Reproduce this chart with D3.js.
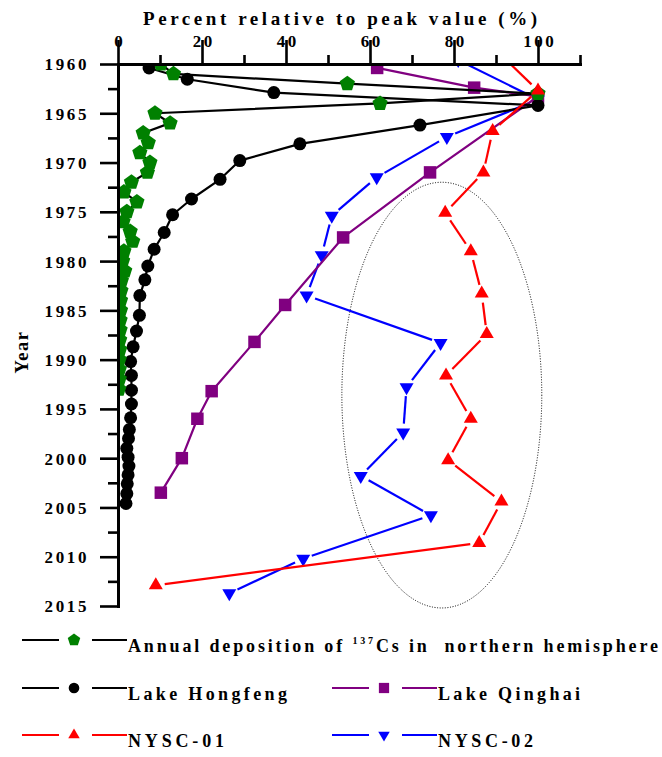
<!DOCTYPE html>
<html>
<head>
<meta charset="utf-8">
<script src="https://cdn.jsdelivr.net/npm/d3@7"></script>
<style>
  html, body { margin: 0; padding: 0; background: #fff; }
  svg { display: block; }
  text { font-family: "Liberation Serif", "Times New Roman", serif; font-weight: bold; fill: #000; }
</style>
</head>
<body>
<svg id="chart" width="662" height="757"></svg>
<script>
// ---- data: percent of each record's peak value, by year ----
const xMajorTicks = [0, 20, 40, 60, 80, 100];
const xMinorTicks = [10, 30, 50, 70, 90, 110];
const yMajorTicks = [1960, 1965, 1970, 1975, 1980, 1985, 1990, 1995, 2000, 2005, 2010, 2015];
const yMinorTicks = [1962.5, 1967.5, 1972.5, 1977.5, 1982.5, 1987.5, 1992.5, 1997.5, 2002.5, 2007.5, 2012.5];

const annualYears = [1960, 1961, 1962, 1963, 1964, 1965, 1966, 1967, 1968, 1969, 1970, 1971,
  1972, 1973, 1974, 1975, 1976, 1977, 1978, 1979, 1980, 1981, 1982, 1983, 1984, 1985, 1986,
  1987, 1988, 1989, 1990, 1991, 1992, 1993];
const annualValues = [10.2, 13.2, 54.6, 100, 62.4, 8.8, 12.4, 6.0, 7.2, 5.2, 7.6, 7.0,
  3.2, 1.4, 4.5, 2.1, 1.2, 2.9, 3.5, 1.4, 1.1, 1.6, 0.8, 0.7, 0.6, 0.6, 0.5, 0.5, 0.4,
  0.4, 0.3, 0.3, 0.3, 0.2];

const hongfengYears = [1960.4, 1961.55, 1962.9, 1964.2, 1966.2, 1968.1, 1969.8, 1971.7, 1973.7,
  1975.3, 1977.1, 1978.8, 1980.5, 1981.9, 1983.5, 1985.5, 1987.1, 1988.7, 1990.2, 1991.6,
  1993.1, 1994.5, 1995.9, 1997.1, 1998.0, 1999.0, 1999.9, 2000.8, 2001.7, 2002.6, 2003.6, 2004.6];
const hongfengValues = [7.4, 16.5, 37.1, 100, 71.9, 43.3, 29.0, 24.3, 17.5,
  13.0, 11.0, 8.6, 7.1, 6.4, 5.2, 5.1, 4.4, 3.6, 3.0, 3.2,
  3.2, 3.2, 3.0, 2.7, 2.5, 2.1, 2.4, 2.6, 2.4, 2.2, 2.1, 1.9];

const qinghaiYears = [1960.4, 1962.4, 1963.3, 1971.0, 1977.6, 1984.45, 1988.2, 1993.2, 1996.0, 2000.0, 2003.5];
const qinghaiValues = [61.7, 84.8, 100, 74.3, 53.6, 39.8, 32.5, 22.3, 18.9, 15.2, 10.2];

const nysc01Years = [1959.0, 1962.7, 1966.8, 1971.0, 1975.1, 1979.0, 1983.3, 1987.4, 1991.6, 1996.0, 2000.2, 2004.4, 2008.6, 2012.9];
const nysc01Values = [91.0, 100, 89.2, 87.0, 77.9, 84.0, 86.6, 87.8, 78.1, 84.0, 78.6, 91.3, 86.0, 9.0];

const nysc02Years = [1959.6, 1963.6, 1967.4, 1971.5, 1975.4, 1979.4, 1983.5, 1988.3, 1992.8, 1997.4, 2001.8, 2005.8, 2010.2, 2013.7];
const nysc02Values = [81.0, 100, 78.3, 61.6, 50.9, 48.5, 44.9, 76.8, 68.7, 67.9, 57.8, 74.5, 44.1, 26.5];

// highlighted period (dotted ellipse): centre and half-widths in data units
const ellipseCenter = [77.1, 1993.6];
const ellipseRadii = [23.8, 21.6];

// ---- scales ----
const svg = d3.select("#chart");
const x = d3.scaleLinear().domain([0, 110]).range([118, 580]);
const y = d3.scaleLinear().domain([1960, 2015]).range([64, 606]);

// ---- marker shapes ----
function pentagon(r) {
  const pts = d3.range(5).map(k => {
    const a = (-90 + k * 72) * Math.PI / 180;
    return [r * Math.cos(a), r * Math.sin(a)];
  });
  return "M" + pts.map(p => p.join(",")).join("L") + "Z";
}
function triangle(w, h, down) {
  const s = down ? -1 : 1;
  return `M0,${-s * 2 * h / 3}L${w / 2},${s * h / 3}L${-w / 2},${s * h / 3}Z`;
}
function square(a) {
  return `M${-a / 2},${-a / 2}h${a}v${a}h${-a}Z`;
}
function circle(r) {
  return `M${r},0A${r},${r} 0 1,1 ${-r},0A${r},${r} 0 1,1 ${r},0Z`;
}
function markerPath(shape, k) {
  switch (shape) {
    case "pentagon": return pentagon(8 * k);
    case "triUp": return triangle(14 * k, 12 * k, false);
    case "triDown": return triangle(14 * k, 12 * k, true);
    case "square": return square(12.5 * k);
    default: return circle(6.5 * k);
  }
}

const series = [
  { label: "NYSC-02", years: nysc02Years, values: nysc02Values, line: "#0000FF", fill: "#0000FF", shape: "triDown", gap: 9 },
  { label: "Lake Qinghai", years: qinghaiYears, values: qinghaiValues, line: "#800080", fill: "#800080", shape: "square", gap: 0 },
  { label: "Lake Hongfeng", years: hongfengYears, values: hongfengValues, line: "#000000", fill: "#000000", shape: "circle", gap: 0 },
  { label: "annual", years: annualYears, values: annualValues, line: "#000000", fill: "#008000", shape: "pentagon", gap: 0 },
  { label: "NYSC-01", years: nysc01Years, values: nysc01Values, line: "#FF0000", fill: "#FF0000", shape: "triUp", gap: 9 }
];

// ---- plot area clip ----
svg.append("defs").append("clipPath").attr("id", "plotClip")
  .append("rect").attr("x", x(0)).attr("y", y(1960))
  .attr("width", x(110) - x(0) + 10).attr("height", y(2015) - y(1960) + 10);

const plot = svg.append("g").attr("clip-path", "url(#plotClip)");

// dotted ellipse around the recent NYSC records
plot.append("ellipse")
  .attr("cx", x(ellipseCenter[0])).attr("cy", y(ellipseCenter[1]))
  .attr("rx", x(ellipseCenter[0] + ellipseRadii[0]) - x(ellipseCenter[0]))
  .attr("ry", y(ellipseCenter[1] + ellipseRadii[1]) - y(ellipseCenter[1]))
  .attr("fill", "none").attr("stroke", "#000").attr("stroke-width", 1)
  .attr("stroke-dasharray", "1,1.6");

series.forEach(s => {
  const pts = s.years.map((yr, i) => [x(s.values[i]), y(yr)]);
  const g = plot.append("g");
  if (s.gap > 0) {
    // connecting segments stop short of each symbol
    for (let i = 0; i < pts.length - 1; i++) {
      const [x0, y0] = pts[i], [x1, y1] = pts[i + 1];
      const L = Math.hypot(x1 - x0, y1 - y0);
      if (L <= 2 * s.gap + 2) continue;
      const ux = (x1 - x0) / L, uy = (y1 - y0) / L;
      g.append("line")
        .attr("x1", x0 + ux * s.gap).attr("y1", y0 + uy * s.gap)
        .attr("x2", x1 - ux * s.gap).attr("y2", y1 - uy * s.gap)
        .attr("stroke", s.line).attr("stroke-width", 2.2);
    }
  } else {
    g.append("path").datum(pts)
      .attr("d", d3.line())
      .attr("fill", "none").attr("stroke", s.line).attr("stroke-width", 2.2)
      .attr("stroke-linejoin", "round");
  }
  g.selectAll("path.mk").data(pts).join("path").attr("class", "mk")
    .attr("transform", d => `translate(${d[0]},${d[1]})`)
    .attr("d", markerPath(s.shape, 1))
    .attr("fill", s.fill);
});

// ---- axes ----
const tickFont = "17px";
const xMinor = svg.append("g").attr("transform", `translate(0,${y(1960)})`)
  .call(d3.axisTop(x).tickValues(xMinorTicks).tickSize(9).tickSizeOuter(0).tickFormat(""));
const xMajor = svg.append("g").attr("transform", `translate(0,${y(1960)})`)
  .call(d3.axisTop(x).tickValues(xMajorTicks).tickSize(24).tickSizeOuter(0).tickPadding(-7));
const yMinor = svg.append("g").attr("transform", `translate(${x(0)},0)`)
  .call(d3.axisLeft(y).tickValues(yMinorTicks).tickSize(10).tickSizeOuter(0).tickFormat(""));
const yMajor = svg.append("g").attr("transform", `translate(${x(0)},0)`)
  .call(d3.axisLeft(y).tickValues(yMajorTicks).tickSize(18).tickSizeOuter(0).tickPadding(11).tickFormat(d3.format("d")));

[xMinor, xMajor, yMinor, yMajor].forEach(a => {
  a.select(".domain").attr("stroke", "#000").attr("stroke-width", 3).attr("stroke-linecap", "square");
  a.selectAll(".tick line").attr("stroke", "#000").attr("stroke-width", 2.6);
  a.selectAll(".tick text").attr("font-family", null).style("font-size", tickFont)
    .attr("fill", "#000").attr("letter-spacing", "2.6px");
});
xMajor.selectAll(".tick text").attr("dx", "1.3px");
yMajor.selectAll(".tick text").attr("dy", "0.35em");

// ---- text helpers ----
function fitWidth(node, target) {
  const t = d3.select(node).attr("letter-spacing", 0);
  const n = node.getNumberOfChars();
  const w = node.getComputedTextLength();
  t.attr("letter-spacing", ((target - w) / (n - 1)).toFixed(2));
}

// title across the top axis
const title = svg.append("text").attr("x", 143).attr("y", 25)
  .style("font-size", "19px").text("Percent relative to peak value (%)");
fitWidth(title.node(), 394);

// vertical axis label
svg.append("text").attr("transform", "translate(28,352) rotate(-90)")
  .attr("text-anchor", "middle").style("font-size", "18.5px").attr("letter-spacing", "1.5px")
  .text("Year");

// ---- legend ----
const legendItems = [
  { s: series[3], lx: 22, ty: 640, width: 530 },
  { s: series[2], lx: 22, ty: 688, width: 159 },
  { s: series[1], lx: 332, ty: 688, width: 142 },
  { s: series[4], lx: 22, ty: 735, width: 96 },
  { s: series[0], lx: 332, ty: 735, width: 95 }
];
const legend = svg.append("g");
legendItems.forEach(it => {
  const g = legend.append("g").attr("transform", `translate(${it.lx},${it.ty})`);
  g.append("line").attr("x1", 0).attr("x2", 37).attr("stroke", it.s.line).attr("stroke-width", 2.2);
  g.append("line").attr("x1", 70).attr("x2", 105).attr("stroke", it.s.line).attr("stroke-width", 2.2);
  g.append("path").attr("transform", "translate(52,0)")
    .attr("d", markerPath(it.s.shape, 0.82)).attr("fill", it.s.fill);
  const t = g.append("text").attr("x", 106).attr("y", 12).style("font-size", "18px")
    .attr("xml:space", "preserve");
  if (it.s.label === "annual") {
    t.append("tspan").text("Annual deposition of ");
    t.append("tspan").attr("dy", -8).style("font-size", "10px").text("137");
    t.append("tspan").attr("dy", 8).text("Cs in  northern hemisphere");
  } else {
    t.text(it.s.label);
  }
  fitWidth(t.node(), it.width);
});
</script>
</body>
</html>
